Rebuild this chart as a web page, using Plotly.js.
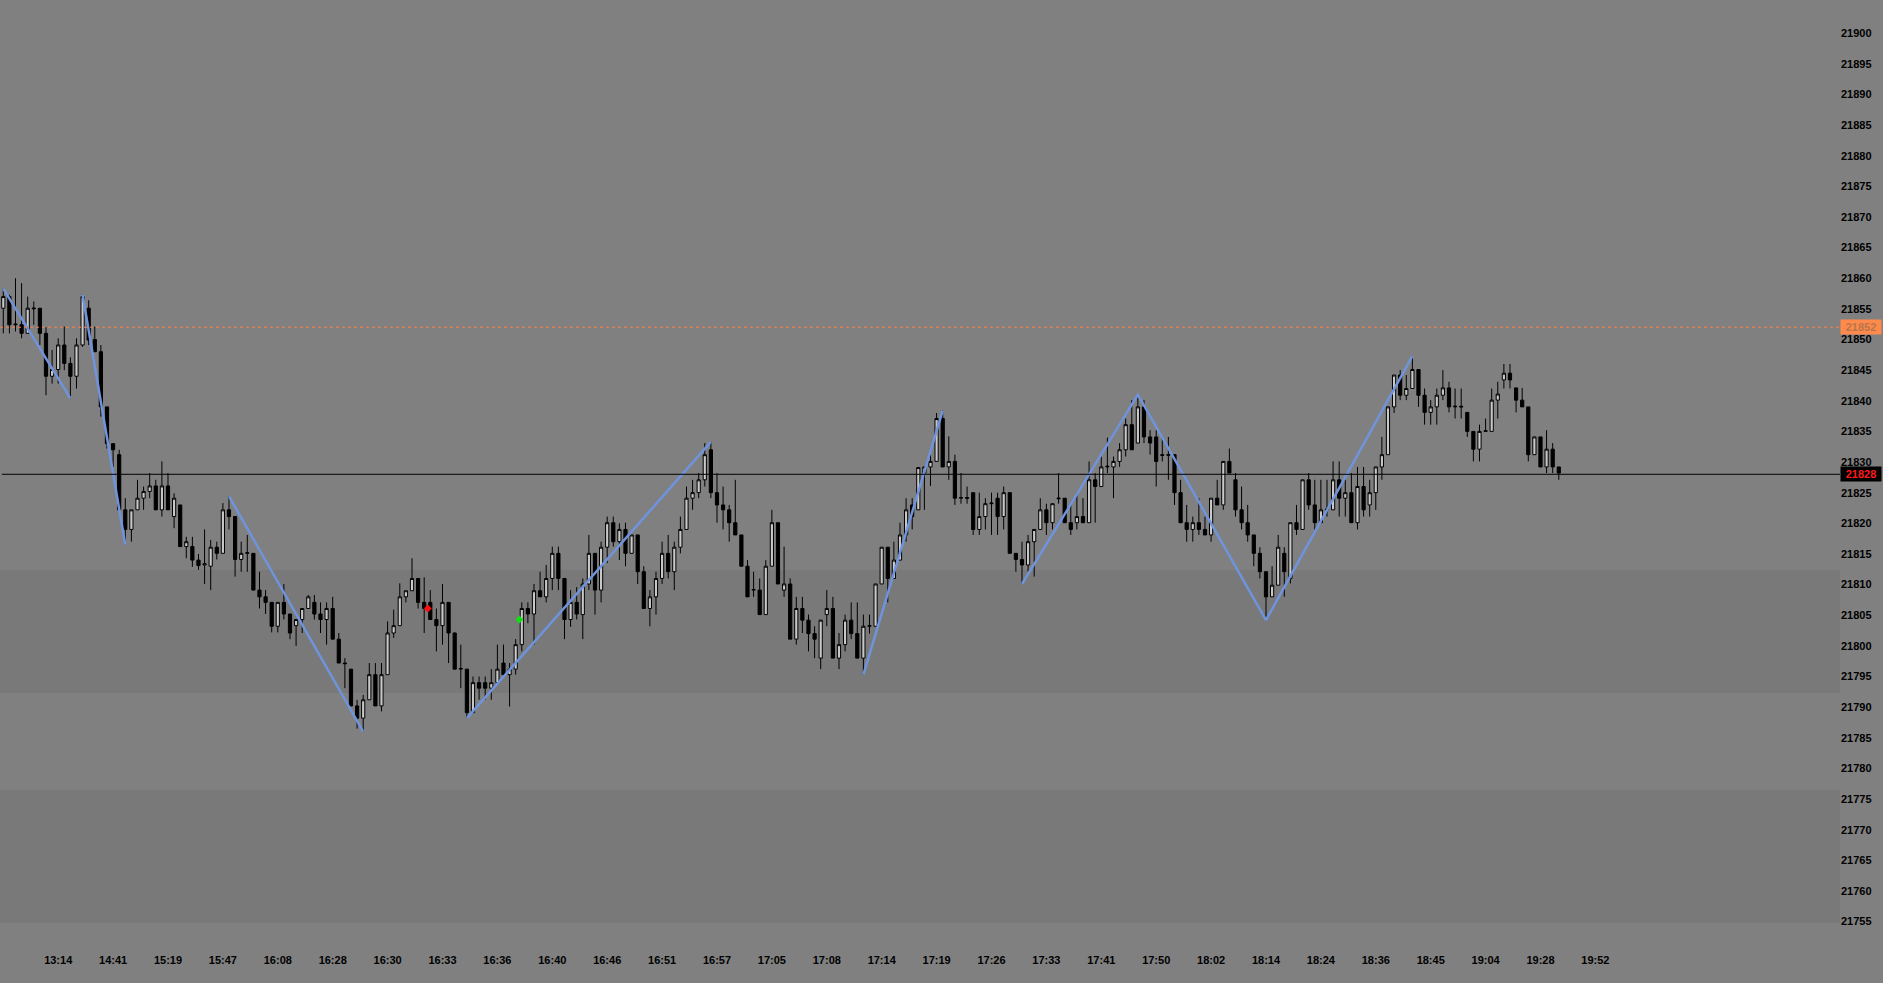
<!DOCTYPE html>
<html>
<head>
<meta charset="utf-8">
<script src="https://cdn.plot.ly/plotly-3.0.1.min.js"></script>
<style>
  html, body { margin: 0; padding: 0; background: #808080; }
  #chart { width: 1883px; height: 983px; }
</style>
</head>
<body>
<div id="chart"></div>
<script>
// 1-bar candles (index = bar number)
var opens = [
  21855.1, 21857.0, 21852.4, 21852.4, 21851.0, 21855.0, 21855.1, 21851.0, 21844.0, 21845.1,
  21849.1, 21846.1, 21844.0, 21849.1, 21855.1, 21850.0, 21848.0, 21839.0, 21833.0, 21831.2,
  21822.2, 21819.0, 21822.2, 21824.1, 21825.2, 21826.1, 21822.2, 21826.1, 21821.1, 21823.0,
  21816.2, 21816.2, 21814.0, 21813.2, 21813.0, 21816.1, 21815.1, 21822.2, 21821.1, 21814.1,
  21815.1, 21815.1, 21809.1, 21808.0, 21807.1, 21803.2, 21807.1, 21805.2, 21803.3, 21804.3,
  21806.1, 21807.1, 21805.2, 21804.3, 21806.1, 21801.1, 21797.2, 21796.2, 21790.2, 21788.2,
  21791.2, 21795.3, 21790.2, 21795.3, 21802.1, 21803.3, 21808.0, 21809.0, 21811.0, 21807.1,
  21807.1, 21804.3, 21803.3, 21807.1, 21802.1, 21796.2, 21796.2, 21789.1, 21794.0, 21794.0,
  21793.1, 21794.0, 21797.2, 21795.3, 21796.2, 21800.2, 21806.1, 21805.2, 21809.0, 21808.0,
  21811.0, 21815.1, 21811.0, 21804.3, 21807.1, 21805.1, 21810.1, 21815.1, 21809.1, 21816.1,
  21820.1, 21817.0, 21819.0, 21815.1, 21818.1, 21812.1, 21806.1, 21808.0, 21811.0, 21815.1,
  21812.1, 21816.1, 21819.0, 21824.1, 21825.0, 21827.1, 21832.0, 21825.0, 21823.0, 21822.2,
  21820.1, 21818.1, 21813.0, 21809.1, 21809.1, 21805.1, 21813.0, 21820.1, 21809.1, 21810.1,
  21801.1, 21806.1, 21804.2, 21802.0, 21798.0, 21805.1, 21806.1, 21798.0, 21800.2, 21804.2,
  21802.0, 21798.0, 21803.2, 21803.2, 21810.1, 21816.1, 21811.0, 21814.0, 21818.1, 21823.0,
  21822.2, 21828.2, 21829.2, 21830.1, 21837.1, 21829.2, 21830.1, 21824.1, 21824.2, 21825.0,
  21819.0, 21821.1, 21823.2, 21824.1, 21821.1, 21825.0, 21815.1, 21814.1, 21813.2, 21817.0,
  21819.0, 21822.2, 21820.1, 21824.0, 21824.1, 21820.1, 21820.1, 21821.1, 21820.1, 21827.1,
  21826.0, 21829.2, 21829.2, 21830.1, 21832.0, 21836.1, 21833.1, 21839.0, 21834.1, 21834.1,
  21831.2, 21831.1, 21831.2, 21825.0, 21820.1, 21819.0, 21820.1, 21819.0, 21818.1, 21824.1,
  21823.0, 21830.1, 21827.1, 21822.2, 21820.1, 21818.1, 21815.1, 21812.1, 21808.0, 21809.9,
  21815.1, 21811.0, 21820.1, 21819.0, 21827.1, 21823.0, 21820.1, 21822.2, 21822.2, 21827.1,
  21824.1, 21825.0, 21820.1, 21826.0, 21823.0, 21825.0, 21829.2, 21831.2, 21839.0, 21844.2,
  21840.9, 21842.0, 21845.1, 21840.9, 21838.1, 21839.0, 21840.9, 21842.1, 21839.0, 21839.1,
  21838.1, 21835.0, 21832.1, 21835.0, 21835.0, 21840.1, 21843.4, 21844.5, 21842.1, 21840.1,
  21839.0, 21831.2, 21834.1, 21829.2, 21832.1, 21829.2
];
var highs = [
  21858.3, 21857.3, 21860.0, 21859.2, 21857.0, 21856.2, 21855.1, 21852.0, 21848.3, 21850.2,
  21852.1, 21847.1, 21850.2, 21857.3, 21856.4, 21852.1, 21849.1, 21839.0, 21833.0, 21832.0,
  21824.1, 21822.2, 21827.1, 21826.0, 21828.2, 21827.1, 21830.1, 21828.2, 21824.9, 21823.0,
  21817.8, 21817.8, 21815.0, 21819.0, 21817.3, 21817.0, 21823.3, 21824.4, 21821.1, 21817.0,
  21818.1, 21815.1, 21812.1, 21809.1, 21807.1, 21807.1, 21810.1, 21805.2, 21804.3, 21806.1,
  21808.3, 21808.3, 21807.1, 21807.1, 21808.0, 21802.1, 21798.0, 21796.2, 21791.2, 21792.0,
  21797.2, 21797.2, 21797.2, 21804.0, 21805.9, 21810.2, 21809.0, 21814.3, 21811.0, 21811.2,
  21809.1, 21806.1, 21810.1, 21807.1, 21802.2, 21800.2, 21796.2, 21795.0, 21795.0, 21795.0,
  21796.2, 21800.2, 21800.2, 21797.2, 21801.1, 21807.1, 21807.1, 21810.1, 21812.1, 21813.2,
  21816.2, 21816.2, 21811.0, 21809.1, 21809.6, 21811.0, 21818.1, 21815.1, 21817.0, 21821.1,
  21821.1, 21820.0, 21820.1, 21818.1, 21818.1, 21813.0, 21809.1, 21812.1, 21817.0, 21818.1,
  21817.0, 21821.1, 21826.0, 21827.1, 21828.2, 21833.1, 21833.3, 21828.2, 21826.0, 21823.0,
  21827.1, 21818.1, 21814.0, 21812.1, 21811.0, 21814.0, 21822.2, 21820.1, 21816.2, 21811.0,
  21808.0, 21808.0, 21805.1, 21803.2, 21804.2, 21809.1, 21808.0, 21802.1, 21805.1, 21807.1,
  21807.1, 21805.1, 21805.1, 21810.1, 21816.1, 21816.1, 21817.0, 21820.1, 21824.1, 21824.1,
  21829.1, 21829.1, 21831.2, 21838.0, 21838.4, 21834.2, 21831.2, 21828.2, 21826.0, 21825.0,
  21825.0, 21824.1, 21825.0, 21825.0, 21826.0, 21825.0, 21815.1, 21817.0, 21818.1, 21819.0,
  21824.1, 21823.2, 21823.2, 21828.2, 21824.1, 21823.2, 21825.0, 21824.1, 21830.1, 21828.2,
  21830.9, 21834.0, 21830.9, 21833.1, 21837.1, 21840.1, 21841.0, 21840.1, 21835.2, 21835.2,
  21834.1, 21834.1, 21831.2, 21827.1, 21823.0, 21821.1, 21824.1, 21821.1, 21824.1, 21827.1,
  21830.1, 21832.2, 21828.2, 21826.0, 21823.0, 21818.1, 21816.1, 21812.1, 21813.0, 21818.1,
  21816.1, 21820.1, 21823.0, 21827.1, 21828.2, 21827.1, 21827.1, 21827.1, 21830.1, 21830.1,
  21827.1, 21828.2, 21829.2, 21829.2, 21827.1, 21829.2, 21834.1, 21839.0, 21844.2, 21845.0,
  21844.2, 21847.3, 21845.1, 21842.0, 21840.1, 21842.0, 21845.0, 21843.1, 21842.0, 21842.0,
  21838.1, 21835.0, 21836.1, 21837.1, 21842.0, 21843.1, 21846.0, 21846.0, 21842.1, 21842.1,
  21839.0, 21834.1, 21834.1, 21835.2, 21833.1, 21829.2
];
var lows = [
  21851.0, 21851.0, 21851.3, 21850.2, 21851.0, 21852.4, 21849.1, 21840.9, 21842.8, 21842.8,
  21845.0, 21840.4, 21842.0, 21848.8, 21849.1, 21848.0, 21837.4, 21832.2, 21829.2, 21822.2,
  21816.5, 21817.0, 21822.2, 21822.2, 21824.1, 21822.2, 21821.1, 21822.2, 21819.2, 21816.2,
  21814.3, 21812.9, 21812.4, 21810.1, 21809.1, 21814.1, 21815.1, 21819.0, 21811.3, 21812.1,
  21812.1, 21809.1, 21806.1, 21805.2, 21802.2, 21802.2, 21804.3, 21801.1, 21800.0, 21802.1,
  21806.1, 21804.3, 21802.1, 21800.2, 21801.1, 21797.2, 21793.1, 21790.2, 21786.5, 21786.0,
  21791.2, 21790.2, 21789.3, 21795.3, 21801.3, 21803.3, 21807.1, 21809.0, 21806.1, 21802.1,
  21804.3, 21799.1, 21800.2, 21797.2, 21796.2, 21793.1, 21788.2, 21789.1, 21791.2, 21791.2,
  21791.2, 21794.0, 21795.3, 21790.1, 21795.3, 21799.1, 21803.7, 21800.2, 21808.0, 21807.1,
  21809.1, 21809.1, 21801.1, 21803.1, 21804.3, 21801.1, 21809.1, 21805.1, 21807.1, 21813.5,
  21816.2, 21814.0, 21813.0, 21815.1, 21810.1, 21806.1, 21803.2, 21805.1, 21810.1, 21811.0,
  21809.1, 21815.1, 21819.0, 21822.2, 21824.1, 21826.0, 21824.1, 21820.1, 21819.0, 21817.0,
  21818.1, 21813.0, 21808.0, 21808.0, 21805.1, 21805.1, 21813.0, 21810.1, 21808.0, 21801.1,
  21800.2, 21802.1, 21799.1, 21798.0, 21796.2, 21803.2, 21798.0, 21796.2, 21799.1, 21801.1,
  21798.0, 21795.3, 21802.0, 21803.2, 21810.1, 21807.1, 21811.0, 21814.0, 21817.0, 21819.0,
  21822.2, 21822.2, 21826.1, 21830.1, 21829.2, 21827.1, 21823.0, 21823.2, 21823.2, 21818.1,
  21818.1, 21819.0, 21818.1, 21818.1, 21819.0, 21815.1, 21812.1, 21810.1, 21812.1, 21811.3,
  21819.0, 21818.1, 21819.0, 21823.2, 21820.1, 21818.1, 21819.0, 21820.1, 21820.1, 21820.1,
  21826.0, 21828.2, 21824.1, 21829.2, 21830.9, 21832.0, 21833.1, 21833.1, 21831.2, 21826.0,
  21830.1, 21827.1, 21823.0, 21820.1, 21817.0, 21817.0, 21818.1, 21818.1, 21817.0, 21823.0,
  21822.2, 21828.2, 21821.1, 21819.0, 21817.0, 21813.0, 21811.0, 21804.2, 21808.0, 21809.9,
  21808.0, 21810.2, 21818.1, 21819.0, 21822.2, 21819.0, 21820.1, 21821.1, 21822.2, 21821.1,
  21821.1, 21820.1, 21819.0, 21821.1, 21821.1, 21822.2, 21827.1, 21831.2, 21838.0, 21840.1,
  21840.1, 21842.0, 21839.0, 21836.1, 21836.1, 21836.1, 21840.1, 21838.1, 21837.1, 21837.1,
  21834.1, 21830.1, 21830.1, 21835.0, 21835.0, 21837.1, 21842.0, 21842.0, 21838.1, 21839.0,
  21830.1, 21831.2, 21829.2, 21828.2, 21828.2, 21827.1
];
var closes = [
  21857.0, 21852.4, 21852.5, 21851.0, 21855.1, 21855.1, 21851.0, 21844.0, 21845.1, 21849.1,
  21846.1, 21844.0, 21849.1, 21857.0, 21849.9, 21848.0, 21839.0, 21833.0, 21832.0, 21822.2,
  21819.0, 21822.2, 21824.1, 21825.2, 21826.1, 21822.2, 21826.1, 21822.2, 21824.1, 21816.2,
  21817.0, 21814.0, 21813.1, 21813.4, 21816.1, 21815.1, 21822.2, 21821.1, 21814.1, 21815.1,
  21815.2, 21809.1, 21808.0, 21807.1, 21803.2, 21807.1, 21805.2, 21802.1, 21804.3, 21806.1,
  21808.0, 21805.2, 21804.3, 21806.1, 21801.1, 21797.2, 21797.1, 21790.2, 21788.2, 21791.2,
  21795.3, 21790.2, 21795.3, 21802.1, 21803.3, 21808.0, 21809.0, 21811.0, 21807.1, 21806.1,
  21804.3, 21803.3, 21807.1, 21802.1, 21796.2, 21796.3, 21789.1, 21794.0, 21793.1, 21793.1,
  21794.0, 21796.2, 21795.3, 21796.2, 21800.2, 21806.1, 21805.2, 21809.0, 21808.0, 21811.0,
  21815.1, 21811.0, 21804.3, 21807.1, 21805.2, 21810.1, 21815.1, 21809.1, 21816.1, 21820.1,
  21817.0, 21819.0, 21815.1, 21818.1, 21812.1, 21806.1, 21808.0, 21811.0, 21815.1, 21812.1,
  21816.1, 21819.0, 21824.1, 21825.0, 21827.1, 21831.2, 21825.0, 21823.0, 21822.2, 21820.1,
  21818.1, 21813.0, 21808.0, 21809.2, 21805.1, 21813.0, 21820.1, 21810.1, 21810.1, 21801.1,
  21806.1, 21804.2, 21802.0, 21801.1, 21804.2, 21806.1, 21798.0, 21800.2, 21804.2, 21802.0,
  21798.0, 21803.2, 21803.3, 21810.1, 21816.1, 21811.0, 21814.0, 21818.1, 21822.2, 21821.1,
  21829.1, 21829.2, 21830.1, 21837.1, 21829.2, 21830.1, 21824.1, 21824.2, 21824.1, 21819.0,
  21821.1, 21823.2, 21823.3, 21821.1, 21825.0, 21815.1, 21814.1, 21813.2, 21817.0, 21819.0,
  21822.2, 21820.1, 21823.2, 21824.1, 21820.1, 21819.0, 21821.1, 21820.1, 21827.1, 21826.0,
  21829.2, 21829.3, 21830.1, 21832.0, 21836.1, 21832.0, 21839.0, 21834.1, 21833.1, 21830.1,
  21831.1, 21831.2, 21825.0, 21820.1, 21819.0, 21820.1, 21819.0, 21818.1, 21824.1, 21823.0,
  21830.1, 21828.2, 21822.2, 21820.1, 21818.1, 21815.1, 21812.1, 21808.0, 21809.9, 21816.1,
  21812.1, 21820.1, 21819.0, 21827.1, 21823.0, 21820.1, 21822.2, 21822.3, 21827.1, 21824.1,
  21825.0, 21820.1, 21826.0, 21822.2, 21825.0, 21829.2, 21831.2, 21839.0, 21844.2, 21840.9,
  21842.0, 21845.1, 21840.9, 21838.1, 21839.0, 21840.9, 21842.1, 21839.0, 21839.1, 21839.0,
  21835.0, 21832.1, 21835.0, 21835.1, 21840.1, 21841.1, 21844.5, 21843.4, 21840.1, 21839.0,
  21831.2, 21834.1, 21829.2, 21832.1, 21829.2, 21828.2
];

// time labels under every 9th bar
var tickBars = [9, 18, 27, 36, 45, 54, 63, 72, 81, 90, 99, 108, 117, 126, 135,
                144, 153, 162, 171, 180, 189, 198, 207, 216, 225, 234, 243, 252, 261];
var tickLabels = ["13:14", "14:41", "15:19", "15:47", "16:08", "16:28", "16:30", "16:33",
                  "16:36", "16:40", "16:46", "16:51", "16:57", "17:05", "17:08", "17:14",
                  "17:19", "17:26", "17:33", "17:41", "17:50", "18:02", "18:14", "18:24",
                  "18:36", "18:45", "19:04", "19:28", "19:52"];

// zigzag swing points (null = break between legs)
var zzBar   = [0, 11, null, 13, 20, null, 37, 59, null, 76, 116, null, 141, 154, null, 167, 186, 207, 231];
var zzPrice = [21858.3, 21840.4, null, 21857.3, 21816.5, null, 21824.4, 21786.0, null,
               21788.2, 21833.3, null, 21795.3, 21838.4, null, 21810.1, 21841.0, 21804.2, 21847.3];

// signal dots
var sigBar = [69.6, 84.6];
var sigPrice = [21806.1, 21804.3];
var sigColor = ["#ff1010", "#10e010"];

// zones and price levels
var zoneLow = [21792.3, 21754.8];
var zoneHigh = [21812.4, 21776.5];
var refLevel = 21852;
var lastPrice = 21828;

var bars = opens.map(function (_, i) { return i; });

var font = "Liberation Sans, Arial, sans-serif";

var traces = [
  {
    type: "candlestick",
    x: bars, open: opens, high: highs, low: lows, close: closes,
    increasing: { line: { color: "#000000", width: 1 }, fillcolor: "#c8c8c8" },
    decreasing: { line: { color: "#000000", width: 1 }, fillcolor: "#000000" },
    whiskerwidth: 0,
    hoverinfo: "skip"
  },
  {
    type: "scatter", mode: "lines",
    x: zzBar, y: zzPrice,
    connectgaps: false,
    line: { color: "#6f93dc", width: 2.5 },
    hoverinfo: "skip"
  },
  {
    type: "scatter", mode: "markers",
    x: sigBar, y: sigPrice,
    marker: { color: sigColor, size: 6, symbol: "diamond" },
    hoverinfo: "skip"
  }
];

var shapes = zoneLow.map(function (lo, i) {
  return {
    type: "rect", xref: "paper", x0: 0, x1: 1, yref: "y", y0: lo, y1: zoneHigh[i],
    fillcolor: "#797979", line: { width: 0 }, layer: "below"
  };
});
shapes.push({
  type: "line", xref: "paper", x0: 0, x1: 1, yref: "y", y0: refLevel, y1: refLevel,
  line: { color: "#ff7f40", width: 1, dash: "dot" }
});
shapes.push({
  type: "line", xref: "paper", x0: 0.001, x1: 1, yref: "y", y0: lastPrice, y1: lastPrice,
  line: { color: "#000000", width: 1 }
});

var layout = {
  width: 1883, height: 983,
  margin: { l: 0, r: 43, t: 0, b: 43 },
  paper_bgcolor: "#808080",
  plot_bgcolor: "#808080",
  showlegend: false,
  boxgap: 0.25,
  font: { family: font, color: "#000000" },
  xaxis: {
    range: [-0.54, 301.1],
    rangeslider: { visible: false },
    tickmode: "array", tickvals: tickBars, ticktext: tickLabels,
    ticks: "", showgrid: false, zeroline: false, showline: false,
    ticklabelstandoff: 12,
    tickfont: { family: font, size: 11, weight: "bold", color: "#000000" }
  },
  yaxis: {
    side: "right",
    range: [21752.0, 21905.4],
    tick0: 21755, dtick: 5,
    tickformat: "d",
    ticks: "", showgrid: false, zeroline: false, showline: false,
    tickfont: { family: font, size: 11, weight: "bold", color: "#000000" }
  },
  shapes: shapes,
  annotations: [
    {
      xref: "paper", x: 1, xanchor: "left", yref: "y", y: refLevel, yanchor: "middle",
      text: String(refLevel), showarrow: false,
      bgcolor: "#ff8a4c", width: 38, height: 12, borderpad: 1,
      font: { family: font, size: 11, weight: "bold", color: "#b8764a" }
    },
    {
      xref: "paper", x: 1, xanchor: "left", yref: "y", y: lastPrice, yanchor: "middle",
      text: String(lastPrice), showarrow: false,
      bgcolor: "#000000", width: 38, height: 12, borderpad: 1,
      font: { family: font, size: 11, weight: "bold", color: "#ff1a1a" }
    }
  ]
};

Plotly.newPlot("chart", traces, layout, { displayModeBar: false, staticPlot: true });
</script>
</body>
</html>
